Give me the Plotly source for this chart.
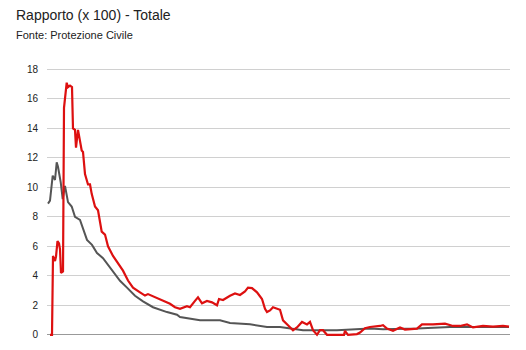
import plotly.graph_objects as go

# abstract time index and values
rosso_x = [2, 4, 5, 7, 8, 9.5, 11, 12, 13, 15, 16, 18.7, 20, 22, 24, 25, 27, 28, 30, 32, 33.7, 35, 37, 40, 42,
           43.7, 47, 50, 53.7, 57, 60, 65, 70, 75, 80, 85, 92, 97, 100, 107, 115, 122, 127, 132, 139, 142, 147,
           150, 154, 159, 164, 169, 171, 175, 182, 187, 192, 197, 200, 204, 209, 214, 217, 219, 222, 225, 232,
           235, 240, 245, 249, 254, 259, 262, 265, 269, 272, 275, 279, 296, 297, 300, 309, 312, 317, 322, 332,
           335, 339, 345, 352, 357, 369, 374, 385, 397, 405, 412, 419, 425, 435, 445, 455, 461]
rosso_y = [0, 0, 5.35, 5.0, 5.3, 6.35, 6.2, 5.8, 4.2, 4.3, 15.4, 17.1, 16.8, 16.9, 16.8, 14.0, 13.9, 12.7, 13.9,
           13.0, 12.5, 12.4, 10.9, 10.2, 10.2, 9.56, 8.7, 8.45, 7.0, 6.8, 6.0, 5.35, 4.88, 4.35, 3.68, 3.2, 2.88,
           2.66, 2.76, 2.54, 2.27, 2.1, 1.87, 1.76, 1.94, 1.87, 2.3, 2.54, 2.14, 2.3, 2.2, 2.0, 2.43, 2.36, 2.65,
           2.8, 2.7, 2.94, 3.2, 3.17, 2.88, 2.43, 1.76, 1.54, 1.65, 1.87, 1.7, 0.98, 0.65, 0.31, 0.5, 0.87, 0.7,
           0.87, 0.31, 0, 0.31, 0.31, 0, 0, 0.27, 0, 0.05, 0.15, 0.45, 0.53, 0.6, 0.65, 0.42, 0.27, 0.5, 0.35,
           0.42, 0.71, 0.71, 0.76, 0.6, 0.6, 0.71, 0.5, 0.6, 0.55, 0.6, 0.55]

grigio_x = [0, 2, 4.7, 7, 8.7, 10, 12.7, 14.7, 17, 20, 23.7, 27, 32, 35, 39, 44, 49, 55, 60, 65, 72, 79, 87, 95,
            105, 119, 129, 132, 152, 172, 182, 202, 219, 232, 255, 289, 322, 335, 369, 402, 435, 461]
grigio_y = [8.9, 9.1, 10.8, 10.5, 11.7, 11.4, 10.35, 9.2, 10.1, 9.0, 8.7, 8.0, 7.8, 7.2, 6.44, 6.1, 5.55, 5.2,
            4.77, 4.33, 3.66, 3.2, 2.65, 2.27, 1.87, 1.54, 1.36, 1.2, 0.98, 0.98, 0.8, 0.71, 0.53, 0.53, 0.31,
            0.31, 0.42, 0.38, 0.42, 0.53, 0.53, 0.53]

y_ticks = [0, 2, 4, 6, 8, 10, 12, 14, 16, 18]

fig = go.Figure()
fig.add_trace(go.Scatter(x=grigio_x, y=grigio_y, mode="lines",
                         line=dict(color="#555555", width=2), showlegend=False))
fig.add_trace(go.Scatter(x=rosso_x, y=rosso_y, mode="lines",
                         line=dict(color="#dd1010", width=2.2), showlegend=False))

fig.update_layout(
    width=526, height=350,
    margin=dict(l=47, r=16, t=67.5, b=10),
    plot_bgcolor="white", paper_bgcolor="white",
    font=dict(family="Liberation Sans, Arial, sans-serif", color="#222222"),
    xaxis=dict(range=[-1, 462], showgrid=False, showticklabels=False, zeroline=False,
               showline=False, ticks=""),
    yaxis=dict(range=[-0.15, 18.1], tickvals=y_ticks, ticktext=[str(v) for v in y_ticks],
               showgrid=True, gridcolor="#d0d0d0", gridwidth=1,
               zeroline=True, zerolinecolor="#999999", zerolinewidth=1,
               showline=False, ticks="", ticklabelstandoff=8,
               tickfont=dict(size=10, color="#222222")),
    annotations=[
        dict(text="Rapporto (x 100) - Totale", xref="paper", yref="paper", x=0, y=1,
             xanchor="left", yanchor="top", xshift=-33, yshift=63, showarrow=False,
             font=dict(size=14, color="#222222")),
        dict(text="Fonte: Protezione Civile", xref="paper", yref="paper", x=0, y=1,
             xanchor="left", yanchor="top", xshift=-33, yshift=41, showarrow=False,
             font=dict(size=11, color="#222222")),
    ],
)

fig.write_html("out.html")
